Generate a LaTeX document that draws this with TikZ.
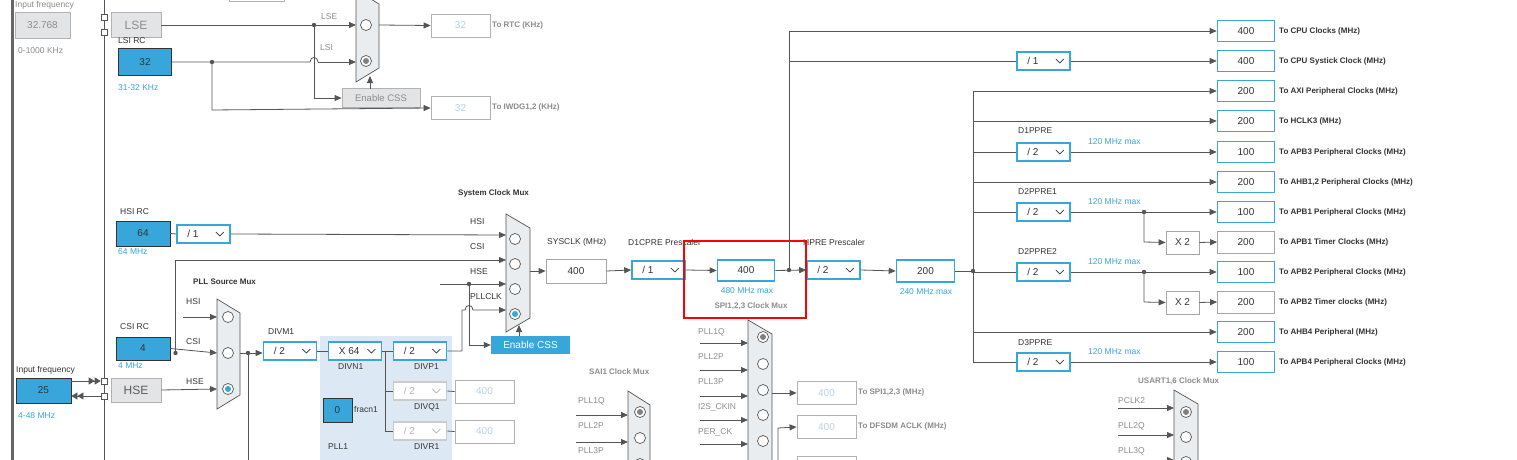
\documentclass[tikz,border=0pt]{standalone}
\usepackage{fontspec}
\setmainfont{Liberation Sans}
\usetikzlibrary{arrows.meta}
\definecolor{bl}{HTML}{38A6DA}
\definecolor{lc}{HTML}{555555}
\definecolor{tc}{HTML}{333333}
\definecolor{gt}{HTML}{8C8C8C}
\definecolor{gf}{HTML}{E2E4E6}
\definecolor{mf}{HTML}{E9EDF0}
\definecolor{pn}{HTML}{DCE9F5}
\definecolor{dv}{HTML}{B5D3EA}
\newcommand\dd[6]{\node[ddst,draw=#5] (#1) at (#2,#3) {};
 \node[anchor=west,inner sep=0,text=#6,font=\fontsize{10}{12}\selectfont] at ([xshift=11pt]#1.west) {#4};
 \draw[#6,line width=0.7pt] ([xshift=-15pt,yshift=2pt]#1.east) -- ++(4,4) -- ++(4,-4);}
\newcommand\muxs[4]{\draw[draw=lc,fill=mf,line width=0.7pt] (#1,#2) -- (#3,{#2+14}) -- (#3,{#4-14}) -- (#1,#4) -- cycle;}
\newcommand\rad[2]{\node[radio] at (#1,#2) {};}
\newcommand\rads[3]{\node[radio] at (#1,#2) {};\fill[#3] (#1,#2) circle (3pt);}
\newcommand\jdot[2]{\fill[lc] (#1,#2) circle (2.2pt);}
\begin{document}
\begin{tikzpicture}[x=1pt,y=-1pt,font=\fontsize{8.5}{10}\selectfont,
 ln/.style={draw=lc,line width=0.8pt},
 arr/.style={ln,-{Triangle[length=7pt,width=6pt]}},
 vbox/.style={draw=bl,line width=1.6pt,fill=white,minimum width=57pt,minimum height=21pt,inner sep=0,font=\fontsize{10}{12}\selectfont,text=tc},
 pbox/.style={draw=gray!70,line width=0.8pt,fill=white,minimum width=57pt,minimum height=22pt,inner sep=0,font=\fontsize{10}{12}\selectfont,text=tc},
 dbox/.style={draw=gray!60,line width=0.8pt,fill=white,minimum width=59pt,minimum height=23pt,inner sep=0,font=\fontsize{10}{12}\selectfont,text=dv},
 gfill/.style={draw=gray!60,line width=0.8pt,fill=gf,inner sep=0,text=gt},
 bfill/.style={draw=tc,line width=0.8pt,fill=bl,inner sep=0,text=tc,font=\fontsize{10}{12}\selectfont},
 ddst/.style={minimum width=53pt,minimum height=18pt,line width=1.6pt,fill=white,inner sep=0},
 radio/.style={circle,draw=lc,fill=white,minimum size=11pt,inner sep=0,line width=0.7pt},
 sq/.style={draw=lc,fill=white,minimum size=6pt,inner sep=0,line width=0.6pt},
 lbl/.style={anchor=west,text=tc,inner sep=0},
 glbl/.style={anchor=west,text=gt,inner sep=0},
 blbl/.style={anchor=west,text=bl,inner sep=0},
 bold/.style={anchor=west,text=tc,inner sep=0,font=\fontsize{8}{10}\selectfont\bfseries},
 gbold/.style={anchor=west,text=gt,inner sep=0,font=\fontsize{8}{10}\selectfont\bfseries}]
\useasboundingbox (0,0) rectangle (1517,460);
\clip (0,0) rectangle (1517,460);
\fill[white] (0,0) rectangle (1517,460);
% frame lines
\draw[line width=3pt,color=gray!80!black] (12.5,0) -- (12.5,460);
\draw[ln] (104,0) -- (104,460);
\fill[pn] (320,336) rectangle (452,470);
% ---------- top: LSE / LSI
\node[glbl] at (15,5) {Input frequency};
\node[gfill,minimum width=55pt,minimum height=26pt,font=\fontsize{10}{12}\selectfont] (lsein) at (42.5,25) {32.768};
\node[glbl] at (18,51) {0-1000 KHz};
\node[gfill,minimum width=50pt,minimum height=25pt,font=\fontsize{12}{14}\selectfont] (lse) at (136,25) {LSE};
\node[sq] (sqa) at (104,17) {}; \node[sq] (sqb) at (104,32) {};
\node[lbl] at (118,41) {LSI RC};
\node[bfill,minimum width=53pt,minimum height=27pt] (lsi) at (145,62) {32};
\node[blbl] at (118,88) {31-32 KHz};
\muxs{356}{-10}{379}{82}
\rad{366}{25} \rads{366}{61}{gray}
\node[glbl] at (321,17) {LSE}; \node[glbl] at (320,48) {LSI};
\node[gfill,minimum width=78pt,minimum height=19pt,font=\fontsize{9.5}{11}\selectfont] (css0) at (381,98) {Enable CSS};
\node[dbox] (rtc) at (460.5,25.5) {32};
\node[dbox] (iwdg) at (460.5,108) {32};
\node[gbold] at (492,25) {To RTC (KHz)};
\node[gbold] at (492,107) {To IWDG1,2 (KHz)};
\draw[gray!60,line width=0.8pt] (229,-10) rectangle (284,1);
\draw[arr] (lse.east) -- (356,25);
\jdot{314}{25}
\draw[arr] (314,25) -- (314,98) -- (css0.west);
\draw[ln] (lsi.east) -- (310,62) .. controls (310,56) and (318,56) .. (318,62);
\draw[arr] (318,62) -- (356,62);
\jdot{212}{62}
\draw[arr] (212,62) -- (212,110) -- (iwdg.west);
\draw[arr] (370,89) -- (370,76);
\draw[arr] (379,25) -- (rtc.west);
% ---------- system clock mux
\node[bold] at (458,193) {System Clock Mux};
\node[lbl] at (120,212) {HSI RC};
\node[bfill,minimum width=54pt,minimum height=25pt] (hsi) at (143,233.5) {64};
\node[blbl] at (118,252) {64 MHz};
\dd{hsidiv}{203.5}{234}{/ 1}{bl}{tc}
\draw[ln] (hsi.east) -- (hsidiv.west);
\muxs{506}{214}{530}{332}
\rad{515}{239} \rad{515}{264} \rad{515}{289} \rads{515}{314}{bl}
\node[lbl] at (470,222) {HSI}; \node[lbl] at (470,247) {CSI};
\node[lbl] at (470,272) {HSE}; \node[lbl] at (470,297) {PLLCLK};
\draw[arr] (hsidiv.east) -- (506,235);
\draw[arr] (175.5,353) -- (175.5,260) -- (506,260);
\draw[arr] (440,284) -- (506,284);
\jdot{469}{284}
\node[fill=bl,text=white,minimum width=79pt,minimum height=18pt,inner sep=0,font=\fontsize{10}{12}\selectfont] (css1) at (530.5,345) {Enable CSS};
\draw[arr] (469,284) -- (469,345) -- (css1.west);
\draw[arr] (519,336) -- (519,325);
\node[pbox,minimum width=60pt,minimum height=24pt] (sysclk) at (576,271) {400};
\draw[arr] (530,271) -- (sysclk.west);
\node[lbl] at (547,242) {SYSCLK (MHz)};
% ---------- PLL source
\node[bold] at (193,282) {PLL Source Mux};
\muxs{217}{299}{240}{409}
\rad{228}{317} \rad{228}{353} \rads{228}{389}{bl}
\node[lbl] at (186,302) {HSI}; \node[lbl] at (186,342) {CSI}; \node[lbl] at (186,382) {HSE};
\node[lbl] at (120,327) {CSI RC};
\node[bfill,minimum width=54pt,minimum height=23pt] (csi) at (143,348.5) {4};
\node[blbl] at (118,366) {4 MHz};
\node[blbl,text=tc] at (16,370) {Input frequency};
\node[bfill,minimum width=55pt,minimum height=25pt] (hsein) at (43.5,390.5) {25};
\node[blbl] at (18,416) {4-48 MHz};
\node[gfill,minimum width=50pt,minimum height=24pt,text=tc!80,font=\fontsize{12}{14}\selectfont] (hse) at (136,390) {HSE};
\node[sq] (sqc) at (104,381) {}; \node[sq] (sqd) at (104,396) {};
\draw[arr] (183,317) -- (217,317);
\draw[arr] (csi.east) -- (217,353);
\jdot{175.5}{353}
\draw[arr] (hse.east) -- (217,389);
\draw[ln,-{Triangle[length=6pt,width=7pt]Triangle[length=6pt,width=7pt]}] (hsein.east |- sqc) -- (sqc.west);
\draw[ln,-{Triangle[length=6pt,width=7pt]Triangle[length=6pt,width=7pt]}] (sqd.west) -- (hsein.east |- sqd);
% ---------- PLL1
\dd{divm}{290}{351}{/ 2}{bl}{tc}
\node[lbl] at (268,332) {DIVM1};
\draw[ln] (240,353) -- (248,353);
\jdot{248}{353}
\draw[arr] (248,353) -- (divm.west |- 0,353);
\draw[ln] (248,353) -- (248,470);
\dd{divn}{355}{351}{X 64}{bl}{tc}
\node[lbl] at (338,367) {DIVN1};
\dd{divp}{420}{351}{/ 2}{bl}{tc}
\node[lbl] at (414,367) {DIVP1};
\dd{divq}{420}{391}{/ 2}{gray!40}{gray!60}
\node[lbl] at (414,407) {DIVQ1};
\dd{divr}{420}{431}{/ 2}{gray!40}{gray!60}
\node[lbl] at (414,447) {DIVR1};
\draw[ln] (divm.east) -- (divn.west);
\draw[ln] (divn.east) -- (divp.west);
\draw[ln] (385,351) -- (385,431) -- (divr.west);
\draw[ln] (385,391) -- (divq.west);
\node[dbox] (q1) at (484.5,391.5) {400};
\node[dbox] (r1o) at (484.5,431.5) {400};
\draw[ln] (divq.east) -- (q1.west);
\draw[ln] (divr.east) -- (r1o.west);
\node[bfill,minimum width=29pt,minimum height=24pt] (frac) at (337.5,410) {0};
\node[lbl] at (354,409) {fracn1};
\node[lbl] at (328,447) {PLL1};
\draw[arr] (divp.east) -- (462,351) -- (462,310) -- (465,310) .. controls (465,304) and (473,304) .. (473,310) -- (506,310);
% ---------- middle
\node[lbl] at (628,242) {D1CPRE Prescaler};
\dd{d1cpre}{658.5}{270}{/ 1}{bl}{tc}
\draw[arr] (sysclk.east) -- (d1cpre.west);
\node[vbox] (cpu) at (746,270.5) {400};
\draw[arr] (d1cpre.east) -- (cpu.west);
\node[text=bl,inner sep=0] at (747,291) {480 MHz max};
\node[text=gt,inner sep=0,font=\fontsize{8}{10}\selectfont\bfseries] at (751,306) {SPI1,2,3 Clock Mux};
\dd{hpre}{833.5}{270}{/ 2}{bl}{tc}
\node[lbl] at (803,242) {HPRE Prescaler};
\draw[arr] (cpu.east) -- (hpre.west);
\jdot{789}{270}
\node[vbox,minimum width=58pt,minimum height=22pt] (ahb) at (925.5,271) {200};
\draw[arr] (hpre.east) -- (ahb.west);
\node[text=bl,inner sep=0] at (926,292) {240 MHz max};
\draw[ln] (ahb.east) -- (973,271);
\jdot{973}{271}
\draw[ln] (973,92) -- (973,362);
\draw[red,line width=1.5pt] (684,241) rectangle (806,318);
% ---------- right column
\foreach \n/\y/\v/\t/\s in {a/31/400/To CPU Clocks (MHz)/vbox, b/61/400/To CPU Systick Clock (MHz)/vbox, c/91/200/To AXI Peripheral Clocks (MHz)/vbox, d/121/200/To HCLK3 (MHz)/vbox, e/152/100/To APB3 Peripheral Clocks (MHz)/vbox, f/182/200/{To AHB1,2 Peripheral Clocks (MHz)}/vbox, g/212/100/To APB1 Peripheral Clocks (MHz)/vbox, h/242/200/To APB1 Timer Clocks (MHz)/pbox, i/272/100/To APB2 Peripheral Clocks (MHz)/vbox, j/302/200/To APB2 Timer clocks (MHz)/pbox, k/332/200/To AHB4 Peripheral (MHz)/vbox, l/362/100/To APB4 Peripheral Clocks (MHz)/vbox}{
 \node[\s] (r\n) at (1246,\y) {\v};
 \node[bold] (t\n) at (1279,\y) {\t};
}
\draw[arr] (789,270) -- (789,31) -- (ra.west);
\dd{sys}{1043.5}{61}{/ 1}{bl}{tc}
\draw[ln] (789,61) -- (sys.west);
\draw[arr] (sys.east) -- (rb.west);
\draw[arr] (973,91) -- (rc.west);
\draw[arr] (973,121) -- (rd.west);
\draw[arr] (973,182) -- (rf.west);
\draw[arr] (973,332) -- (rk.west);
\node[lbl] at (1018,131) {D1PPRE};
\dd{dpa}{1043.5}{152}{/ 2}{bl}{tc}
\node[lbl] at (1018,192) {D2PPRE1};
\dd{dpb}{1043.5}{212}{/ 2}{bl}{tc}
\node[lbl] at (1018,252) {D2PPRE2};
\dd{dpc}{1043.5}{272}{/ 2}{bl}{tc}
\node[lbl] at (1018,343) {D3PPRE};
\dd{dpd}{1043.5}{362}{/ 2}{bl}{tc}
\foreach \y in {142,202,262,352} {\node[blbl] at (1088,\y) {120 MHz max};}
\draw[ln] (973,152) -- (dpa.west); \draw[arr] (dpa.east) -- (re.west);
\draw[ln] (973,212) -- (dpb.west); \draw[arr] (dpb.east) -- (rg.west);
\draw[ln] (973,272) -- (dpc.west); \draw[arr] (dpc.east) -- (ri.west);
\draw[ln] (973,362) -- (dpd.west); \draw[arr] (dpd.east) -- (rl.west);
\node[pbox,minimum width=33pt,minimum height=23pt] (xa) at (1182.5,242.5) {X 2};
\node[pbox,minimum width=33pt,minimum height=23pt] (xb) at (1182.5,302.5) {X 2};
\jdot{1144}{212} \jdot{1144}{272}
\draw[arr] (1144,212) -- (1144,242) -- (xa.west);
\draw[arr] (1144,272) -- (1144,302) -- (xb.west);
\draw[arr] (xa.east) -- (rh.west);
\draw[arr] (xb.east) -- (rj.west);
% ---------- bottom muxes
\muxs{748}{320}{772}{480}
\rads{763}{337}{gray} \rad{763}{364} \rad{763}{390} \rad{763}{415} \rad{763}{441}
\foreach \t/\y in {PLL1Q/332,PLL2P/357,PLL3P/382,I2S\_CKIN/407,PER\_CK/432} {\node[glbl] at (698,\y) {\t};}
\foreach \y in {343,370,396,420,444} {\draw[arr] (700,\y) -- (748,\y);}
\node[dbox] (spi) at (826.5,393) {400};
\node[dbox] (dfs) at (826.5,427) {400};
\node[gbold] at (858,392) {To SPI1,2,3 (MHz)};
\node[gbold] at (858,426) {To DFSDM ACLK (MHz)};
\draw[arr] (772,393) -- (spi.west);
\draw[arr] (778,470) -- (778,428) -- (dfs.west);
\draw[gray!60,line width=0.8pt] (797,456) rectangle (856,480);
\node[gbold] at (589,372) {SAI1 Clock Mux};
\muxs{628}{391}{650}{520}
\rads{640}{412}{gray} \rad{640}{438} \rad{640}{464}
\node[glbl] at (578,401) {PLL1Q}; \node[glbl] at (578,426) {PLL2P}; \node[glbl] at (578,451) {PLL3P};
\draw[arr] (576,415) -- (628,415); \draw[arr] (576,442) -- (628,442);
\node[gbold] at (1138,381) {USART1,6 Clock Mux};
\muxs{1174}{390}{1198}{520}
\rads{1186}{412}{gray} \rad{1186}{437} \rad{1186}{462}
\node[glbl] at (1118,401) {PCLK2}; \node[glbl] at (1118,426) {PLL2Q}; \node[glbl] at (1118,451) {PLL3Q};
\draw[arr] (1118,408) -- (1174,408); \draw[arr] (1118,435) -- (1174,435); \draw[arr] (1118,460) -- (1174,460);
\end{tikzpicture}
\end{document}
